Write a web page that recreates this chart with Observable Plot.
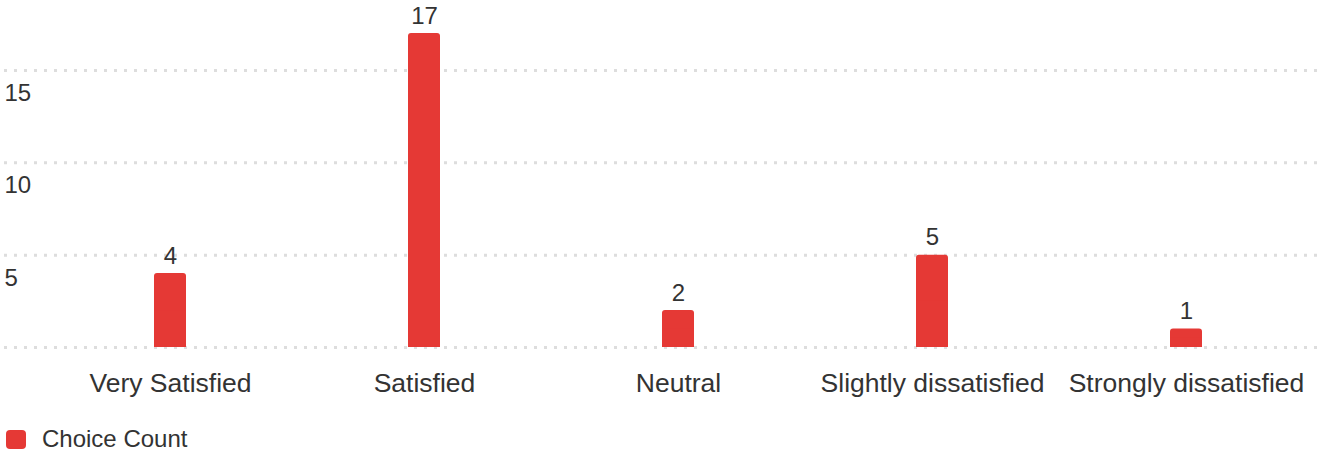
<!DOCTYPE html>
<html>
<head>
<meta charset="utf-8">
<script src="https://cdn.jsdelivr.net/npm/d3@7"></script>
<script src="https://cdn.jsdelivr.net/npm/@observablehq/plot@0.6"></script>
<style>
  body { margin: 0; background: #fff; font-family: "Liberation Sans", Arial, sans-serif; }
  #legend { position: relative; height: 40px; }
  #legend .sw { position: absolute; left: 6px; top: 15px; width: 20px; height: 19px; border-radius: 4px; background: #e53935; }
  #legend .lb { position: absolute; left: 42px; top: 10px; font-size: 24px; color: #333; line-height: 28px; }
</style>
</head>
<body>
<div id="chart"></div>
<div id="legend"><div class="sw"></div><div class="lb">Choice Count</div></div>
<script>
const categories = ["Very Satisfied", "Satisfied", "Neutral", "Slightly dissatisfied", "Strongly dissatisfied"];
const counts = [4, 17, 2, 5, 1];
const yTicks = [5, 10, 15];
const gridValues = [0, 5, 10, 15];
const seriesName = "Choice Count";

const data = categories.map((c, i) => ({category: c, count: counts[i]}));

const chart = Plot.plot({
  width: 1317,
  height: 415,
  marginLeft: 43,
  marginRight: 4,
  marginTop: 33,
  marginBottom: 68,
  style: {fontFamily: "'Liberation Sans', Arial, sans-serif", color: "#333", background: "#fff"},
  x: {domain: categories, paddingInner: 0, paddingOuter: 0},
  y: {domain: [0, 17], axis: null},
  marks: [
    Plot.ruleY(gridValues, {stroke: "#dddddd", strokeWidth: 3, strokeDasharray: "3,7", insetLeft: -39, insetRight: -4}),
    Plot.text(yTicks, {y: d => d, text: d => String(d), frameAnchor: "left", textAnchor: "start", dx: -39, dy: 23, fontSize: 24, fill: "#333"}),
    // rounded bar
    Plot.barY(data, {x: "category", y: "count", fill: "#e53935", insetLeft: 111, insetRight: 111, rx: 3, ry: 3}),
    // square off the bottom corners
    Plot.barY(data, {x: "category", y1: 0, y2: d => d.count / 2, fill: "#e53935", insetLeft: 111, insetRight: 111}),
    Plot.text(data, {x: "category", y: "count", text: d => String(d.count), lineAnchor: "bottom", dy: -10, fontSize: 24, fill: "#333"}),
    Plot.axisX({tickSize: 0, tickPadding: 26, fontSize: 26.5, color: "#333", label: null})
  ]
});
document.getElementById("chart").appendChild(chart);
</script>
</body>
</html>
